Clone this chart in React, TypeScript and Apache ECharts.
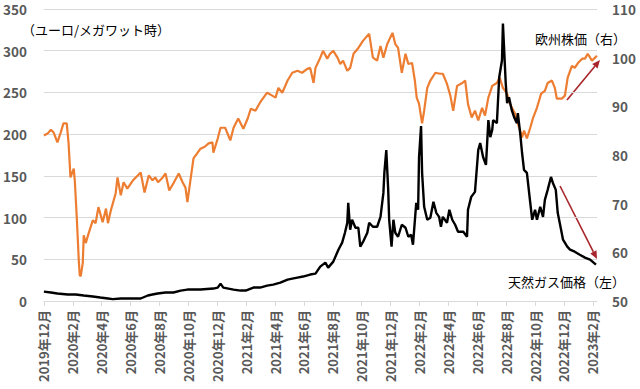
import { useEffect, useRef } from "react";
import * as echarts from "echarts";

// 欧州株価（右軸）
const stockDates = [
  "2019-12-01","2019-12-09","2019-12-16","2019-12-22","2019-12-30","2020-01-06","2020-01-12","2020-01-19","2020-01-23","2020-01-27",
  "2020-02-03","2020-02-05","2020-02-09","2020-02-13","2020-02-15","2020-02-17","2020-02-21","2020-02-23","2020-02-27","2020-03-04",
  "2020-03-13","2020-03-19","2020-03-25","2020-04-03","2020-04-10","2020-04-14","2020-04-20","2020-04-26","2020-04-30","2020-05-04",
  "2020-05-11","2020-05-17","2020-05-25","2020-06-06","2020-06-16","2020-06-22","2020-06-30","2020-07-09","2020-07-17","2020-07-23",
  "2020-07-29","2020-08-08","2020-08-14","2020-08-22","2020-08-31","2020-09-11","2020-09-19","2020-09-25","2020-09-29","2020-10-04",
  "2020-10-12","2020-10-21","2020-10-27","2020-11-05","2020-11-13","2020-11-21","2020-11-23","2020-12-02","2020-12-08","2020-12-18",
  "2020-12-29","2021-01-05","2021-01-15","2021-01-26","2021-02-04","2021-02-10","2021-02-19","2021-02-28","2021-03-15","2021-03-26",
  "2021-04-02","2021-04-08","2021-04-16","2021-04-27","2021-05-07","2021-05-18","2021-05-28","2021-06-08","2021-06-14","2021-06-21",
  "2021-06-25","2021-07-05","2021-07-11","2021-07-20","2021-07-26","2021-08-02","2021-08-11","2021-08-17","2021-08-23","2021-09-01",
  "2021-09-07","2021-09-14","2021-09-24","2021-10-04","2021-10-17","2021-10-25","2021-11-03","2021-11-10","2021-11-16","2021-11-24",
  "2021-12-05","2021-12-11","2021-12-17","2021-12-25","2022-01-02","2022-01-08","2022-01-16","2022-01-22","2022-01-26","2022-01-31",
  "2022-02-06","2022-02-10","2022-02-16","2022-02-22","2022-03-04","2022-03-14","2022-03-20","2022-03-29","2022-04-05","2022-04-11",
  "2022-04-19","2022-04-30","2022-05-06","2022-05-12","2022-05-20","2022-05-27","2022-06-03","2022-06-11","2022-06-17","2022-06-24",
  "2022-07-02","2022-07-12","2022-07-18","2022-07-25","2022-08-03","2022-08-09","2022-08-20","2022-08-26","2022-09-04","2022-09-08",
  "2022-09-14","2022-09-21","2022-09-27","2022-10-05","2022-10-14","2022-10-22","2022-10-28","2022-11-06","2022-11-12","2022-11-16",
  "2022-11-27","2022-12-03","2022-12-09","2022-12-18","2022-12-24","2022-12-31","2023-01-09","2023-01-15","2023-01-21","2023-01-30",
  "2023-02-09"
];
const stockValues = [
  84.0,84.4,85.2,84.6,82.6,84.6,86.5,86.5,82.4,75.4,
  77.2,74.8,67.2,58.4,55.3,55.1,57.8,63.5,61.9,63.9,
  66.6,66.0,69.3,66.2,69.0,66.0,68.6,70.7,72.1,75.4,
  71.7,74.4,73.1,74.8,75.8,76.4,72.3,75.8,74.8,75.4,
  74.4,75.4,76.2,72.7,74.2,76.2,74.4,73.3,70.3,73.8,
  79.3,80.5,81.3,81.7,82.4,82.6,80.5,83.4,85.6,85.6,
  83.0,85.6,87.5,85.4,87.5,89.5,89.1,90.8,92.8,92.2,
  91.8,93.8,92.8,95.3,96.9,97.3,96.9,97.7,97.9,94.8,
  97.9,100.0,101.4,99.8,100.8,101.4,100.0,98.7,99.4,97.3,
  97.9,100.8,102.0,103.5,104.9,100.0,99.4,102.4,100.0,102.8,
  105.1,102.8,102.0,96.9,100.8,98.7,98.9,95.3,91.8,90.5,
  86.5,89.1,93.8,95.3,96.9,96.7,96.7,94.6,92.2,89.1,
  94.2,94.8,95.3,90.5,87.7,89.1,87.1,89.7,88.1,91.8,
  94.2,94.8,95.9,93.8,92.6,90.5,88.5,86.5,83.6,85.0,
  83.4,85.6,87.7,89.7,92.6,93.2,94.8,95.3,93.8,91.6,
  91.6,92.2,95.9,98.3,97.9,98.9,99.8,99.8,100.8,99.4,
  100.4
];

// 天然ガス価格（左軸, ユーロ/メガワット時）
const gasDates = [
  "2019-12-01","2019-12-16","2019-12-30","2020-01-21","2020-02-07","2020-02-23","2020-03-13","2020-03-29","2020-04-14","2020-04-24",
  "2020-05-11","2020-05-25","2020-06-12","2020-06-22","2020-07-07","2020-07-17","2020-07-28","2020-08-14","2020-08-31","2020-09-15",
  "2020-09-29","2020-10-27","2020-11-23","2020-12-02","2020-12-08","2020-12-14","2020-12-25","2021-01-05","2021-01-20","2021-01-31",
  "2021-02-15","2021-02-28","2021-03-15","2021-03-28","2021-04-12","2021-04-27","2021-05-07","2021-05-18","2021-05-30","2021-06-14",
  "2021-06-25","2021-07-05","2021-07-16","2021-07-22","2021-08-02","2021-08-13","2021-08-21","2021-08-27","2021-09-01","2021-09-03",
  "2021-09-07","2021-09-11","2021-09-18","2021-09-24","2021-09-28","2021-10-04","2021-10-13","2021-10-17","2021-10-25","2021-11-03",
  "2021-11-10","2021-11-16","2021-11-18","2021-11-22","2021-11-26","2021-11-28","2021-12-03","2021-12-07","2021-12-11","2021-12-17",
  "2021-12-25","2022-01-02","2022-01-08","2022-01-14","2022-01-18","2022-01-25","2022-01-29","2022-01-31","2022-02-04","2022-02-06",
  "2022-02-10","2022-02-16","2022-02-22","2022-02-28","2022-03-06","2022-03-12","2022-03-16","2022-03-20","2022-03-29","2022-04-03",
  "2022-04-09","2022-04-15","2022-04-21","2022-05-02","2022-05-10","2022-05-12","2022-05-19","2022-05-27","2022-06-03","2022-06-07",
  "2022-06-13","2022-06-19","2022-06-24","2022-06-28","2022-07-02","2022-07-04","2022-07-12","2022-07-17","2022-07-23","2022-07-25",
  "2022-07-27","2022-07-31","2022-08-03","2022-08-07","2022-08-13","2022-08-18","2022-08-24","2022-08-26","2022-08-31","2022-09-04",
  "2022-09-08","2022-09-14","2022-09-21","2022-09-25","2022-10-01","2022-10-05","2022-10-12","2022-10-18","2022-10-22","2022-10-28",
  "2022-11-04","2022-11-08","2022-11-14","2022-11-18","2022-11-25","2022-11-29","2022-12-08","2022-12-14","2022-12-24","2023-01-04",
  "2023-01-15","2023-01-26","2023-02-07"
];
const gasValues = [
  11.3,10.2,9.0,7.8,7.8,6.6,5.4,4.2,3.0,2.2,
  3.0,3.0,3.0,3.0,6.6,7.8,9.0,10.2,10.2,12.5,
  13.7,13.7,14.9,16.1,20.9,16.1,14.9,13.7,12.5,12.5,
  16.1,16.1,18.5,19.7,22.1,25.7,26.9,28.1,29.3,31.7,
  32.8,41.2,46.0,40.0,47.2,61.5,69.9,81.8,93.8,117.7,
  85.4,97.4,87.8,87.8,65.1,71.1,81.8,93.8,89.0,89.0,
  100.9,129.6,153.5,181.0,133.2,97.4,65.1,97.4,81.8,77.0,
  91.4,87.8,77.0,79.4,67.5,117.7,109.3,172.6,209.6,153.5,
  112.9,97.4,99.7,118.9,105.7,100.9,89.0,100.9,93.8,109.3,
  97.4,91.4,83.0,83.0,77.0,109.3,124.8,130.8,181.0,189.3,
  172.6,163.1,216.8,196.5,204.9,216.8,213.2,268.2,288.5,332.7,
  308.8,261.0,237.1,244.3,228.7,220.4,213.2,225.2,201.3,177.4,
  157.1,153.5,117.7,97.4,109.3,97.4,112.9,100.9,121.2,133.2,
  148.7,141.5,133.2,105.7,85.4,73.5,65.1,61.5,59.1,55.5,
  52.0,49.6,43.6
];

// x軸目盛り（2019年12月からの月数）
const xTickMonths = [0, 2, 4, 6, 8, 10, 12, 14, 16, 18, 20, 22, 24, 26, 28, 30, 32, 34, 36, 38];
const xEndDate = "2023-02-09";

const FONT = "'Noto Sans CJK JP', 'Noto Sans', sans-serif";
const AXIS_GRAY = "#595959";
const GRID_GRAY = "#D9D9D9";
const ARROW_RED = "#A8262B";

function toMonths(s: string): number {
  const [y, m, d] = s.split("-").map(Number);
  const dim = new Date(y, m, 0).getDate();
  return (y - 2019) * 12 + (m - 12) + (d - 1) / dim;
}

function monthLabel(v: number): string {
  const m = Math.round(v);
  if (Math.abs(v - m) > 0.01) return "";
  const k = 11 + m;
  const year = 2019 + Math.floor(k / 12);
  const month = (k % 12) + 1;
  return `${year}年${month}月`;
}

function arrow(x1: number, y1: number, x2: number, y2: number) {
  const dx = x2 - x1;
  const dy = y2 - y1;
  const len = Math.hypot(dx, dy);
  const ux = dx / len;
  const uy = dy / len;
  const hl = 8;
  const hw = 3.5;
  const bx = x2 - ux * hl;
  const by = y2 - uy * hl;
  return [
    {
      type: "line",
      shape: { x1, y1, x2: bx, y2: by },
      style: { stroke: ARROW_RED, lineWidth: 1.6 },
      silent: true,
    },
    {
      type: "polygon",
      shape: {
        points: [
          [x2, y2],
          [bx - uy * hw, by + ux * hw],
          [bx + uy * hw, by - ux * hw],
        ],
      },
      style: { fill: ARROW_RED },
      silent: true,
    },
  ];
}

export default function App() {
  const ref = useRef<HTMLDivElement>(null);

  useEffect(() => {
    if (!ref.current) return;
    const chart = echarts.init(ref.current, null, { renderer: "svg" });

    const stockData = stockDates.map((d, i) => [toMonths(d), stockValues[i]]);
    const gasData = gasDates.map((d, i) => [toMonths(d), gasValues[i]]);

    const textStyle = (text: string, x: number, y: number) => ({
      type: "text",
      x,
      y,
      silent: true,
      style: {
        text,
        fill: "#000",
        font: `13px ${FONT}`,
        verticalAlign: "middle",
        align: "left",
      },
    });

    chart.setOption({
      animation: false,
      backgroundColor: "#ffffff",
      grid: { left: 43, right: 43, top: 9, bottom: 88, containLabel: false },
      xAxis: {
        type: "value",
        min: 0,
        max: toMonths(xEndDate),
        interval: 2,
        axisLine: { show: true, lineStyle: { color: GRID_GRAY, width: 1 } },
        axisTick: {
          show: true,
          length: 5,
          customValues: xTickMonths,
          lineStyle: { color: GRID_GRAY },
        },
        axisLabel: {
          rotate: 90,
          margin: 9,
          customValues: xTickMonths,
          formatter: (v: number) => monthLabel(v),
          color: AXIS_GRAY,
          fontWeight: "bold",
          fontSize: 13,
          fontFamily: FONT,
          showMinLabel: true,
          showMaxLabel: true,
        },
        splitLine: { show: false },
      },
      yAxis: [
        {
          type: "value",
          min: 0,
          max: 350,
          interval: 50,
          position: "left",
          axisLine: { show: false },
          axisTick: { show: false },
          axisLabel: {
            margin: 17,
            color: AXIS_GRAY,
            fontWeight: "bold",
            fontSize: 13.5,
            lineHeight: 13,
            fontFamily: FONT,
          },
          splitLine: { show: true, lineStyle: { color: GRID_GRAY, width: 1 } },
        },
        {
          type: "value",
          min: 50,
          max: 110,
          interval: 10,
          position: "right",
          axisLine: { show: false },
          axisTick: { show: false },
          axisLabel: {
            margin: 15,
            color: AXIS_GRAY,
            fontWeight: "bold",
            fontSize: 13.5,
            lineHeight: 13,
            fontFamily: FONT,
          },
          splitLine: { show: false },
        },
      ],
      series: [
        {
          name: "欧州株価（右）",
          type: "line",
          yAxisIndex: 1,
          data: stockData,
          showSymbol: false,
          symbol: "none",
          lineStyle: { color: "#ED7D31", width: 2.2 },
          itemStyle: { color: "#ED7D31" },
          z: 2,
        },
        {
          name: "天然ガス価格（左）",
          type: "line",
          yAxisIndex: 0,
          data: gasData,
          showSymbol: false,
          symbol: "none",
          lineStyle: { color: "#000000", width: 2.4 },
          itemStyle: { color: "#000000" },
          z: 3,
        },
      ],
      graphic: [
        textStyle("（ユーロ/メガワット時）", 22, 29),
        textStyle("欧州株価（右）", 535, 38),
        textStyle("天然ガス価格（左）", 508, 281),
        ...arrow(567, 100, 600, 60),
        ...arrow(560, 186, 597, 259),
      ],
    });

    return () => chart.dispose();
  }, []);

  return (
    <div
      ref={ref}
      style={{
        position: "fixed",
        left: 0,
        top: 0,
        width: 640,
        height: 389,
        background: "#fff",
      }}
    />
  );
}
